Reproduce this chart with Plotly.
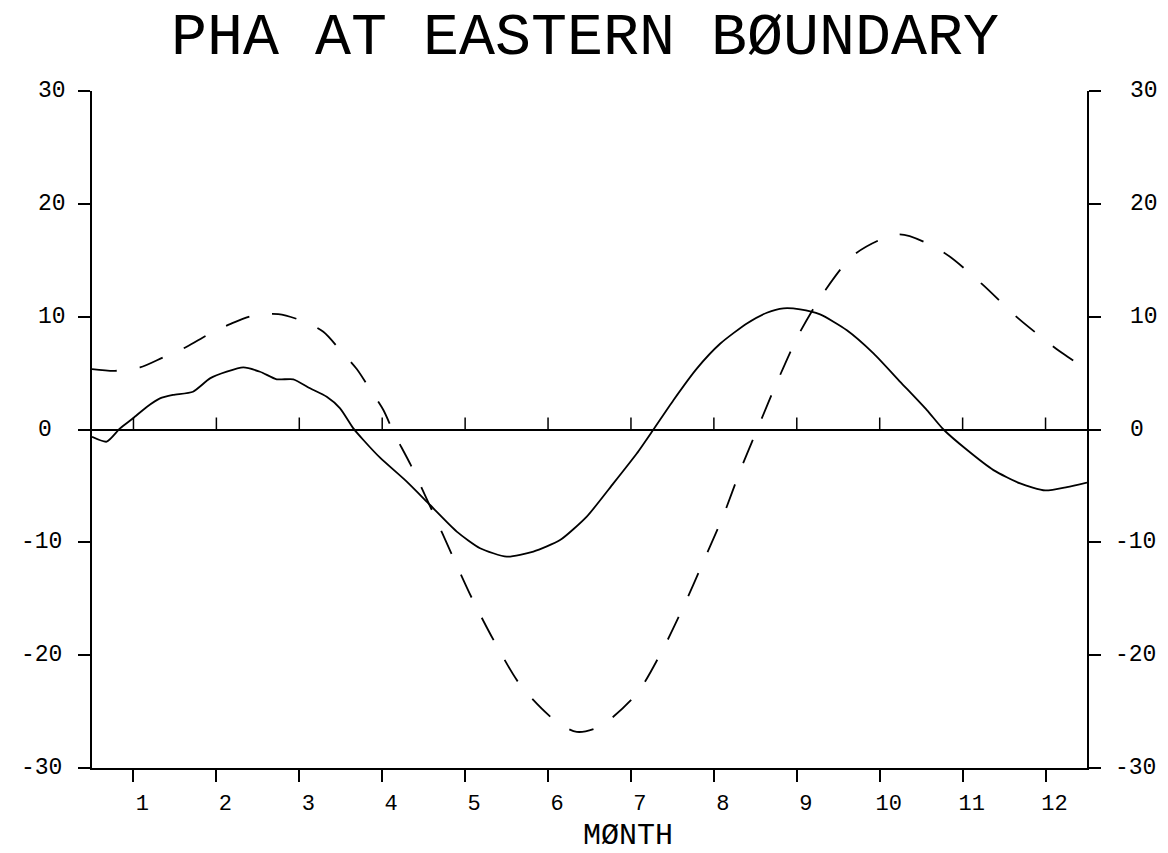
import plotly.graph_objects as go

# ---- data ----
months = [1, 2, 3, 4, 5, 6, 7, 8, 9, 10, 11, 12]
month_labels = ["1", "2", "3", "4", "5", "6", "7", "8", "9", "10", "11", "12"]
y_ticks = [30, 20, 10, 0, -10, -20, -30]

solid_x = [0.500, 0.677, 0.838, 0.995, 1.160, 1.320, 1.477, 1.718, 1.923, 2.125,
           2.325, 2.527, 2.728, 2.928, 3.130, 3.331, 3.492, 3.652, 3.773, 3.974,
           4.296, 4.577, 4.899, 5.180, 5.502, 5.823, 6.145, 6.467, 6.788, 7.070,
           7.271, 7.512, 7.794, 8.075, 8.398, 8.639, 8.839, 9.040, 9.281, 9.604,
           9.925, 10.247, 10.569, 10.769, 11.051, 11.372, 11.694, 11.996, 12.258, 12.500]
solid_y = [-0.65, -1.08, 0.10, 1.00, 2.00, 2.76, 3.06, 3.35, 4.53, 5.12,
           5.50, 5.12, 4.45, 4.45, 3.65, 2.90, 1.88, 0.10, -0.93, -2.50,
           -4.62, -6.69, -9.05, -10.52, -11.27, -10.82, -9.80, -7.72, -4.78, -2.13,
           0.00, 2.60, 5.40, 7.60, 9.40, 10.35, 10.74, 10.65, 10.20, 8.80,
           6.75, 4.23, 1.72, 0.00, -1.80, -3.60, -4.78, -5.40, -5.10, -4.70]

dashed_x = [0.500, 0.777, 1.079, 1.360, 1.642, 1.903, 2.165, 2.446, 2.747, 3.030,
            3.290, 3.492, 3.693, 3.853, 4.014, 4.134, 4.344, 4.598, 4.846, 5.092,
            5.361, 5.671, 6.085, 6.347, 6.628, 7.071, 7.376, 7.633, 7.874, 8.115,
            8.325, 8.522, 8.779, 9.029, 9.330, 9.704, 10.238, 10.769, 11.232, 11.654,
            12.128, 12.257, 12.500]
dashed_y = [5.36, 5.20, 5.50, 6.40, 7.33, 8.43, 9.34, 10.10, 10.23, 9.64,
            8.66, 7.04, 5.36, 3.56, 1.73, -0.20, -3.14, -7.13, -11.18, -15.10,
            -18.90, -22.70, -25.80, -26.80, -26.30, -23.40, -19.60, -15.70, -11.70, -7.60,
            -3.50, 0.00, 4.50, 8.50, 12.20, 15.57, 17.30, 15.70, 12.90, 9.96,
            7.16, 6.50, 5.30]

title_text = "PHA AT EASTERN BØUNDARY"
xlabel_text = "MØNTH"

FONT = "Liberation Mono"
INK = "black"

fig = go.Figure()
fig.add_trace(go.Scatter(x=solid_x, y=solid_y, mode="lines",
                         line=dict(color=INK, width=1.8, shape="spline", smoothing=0.6),
                         showlegend=False, hoverinfo="skip"))
fig.add_trace(go.Scatter(x=dashed_x, y=dashed_y, mode="lines", yaxis="y2",
                         line=dict(color=INK, width=1.8, dash="25px,23px",
                                   shape="spline", smoothing=0.8),
                         showlegend=False, hoverinfo="skip"))

# small upward ticks on the zero line
shapes = []
for m in months:
    shapes.append(dict(type="line", xref="x", yref="y", x0=m, x1=m,
                       ysizemode="pixel", yanchor=0, y0=0, y1=12,
                       line=dict(color=INK, width=1.5)))

annotations = []
# y tick labels, digits aligned as on the plotter
for v in y_ticks:
    t = str(v)
    if v >= 0:
        annotations.append(dict(text=t, xref="paper", yref="y", x=0, y=v, xanchor="left",
                                yanchor="middle", xshift=-56, showarrow=False,
                                font=dict(family=FONT, size=23, color=INK)))
        annotations.append(dict(text=t, xref="paper", yref="y", x=1, y=v, xanchor="left",
                                yanchor="middle", xshift=41, showarrow=False,
                                font=dict(family=FONT, size=23, color=INK)))
    else:
        annotations.append(dict(text=t, xref="paper", yref="y", x=0, y=v, xanchor="right",
                                yanchor="middle", xshift=-28, showarrow=False,
                                font=dict(family=FONT, size=23, color=INK)))
        annotations.append(dict(text=t, xref="paper", yref="y", x=1, y=v, xanchor="right",
                                yanchor="middle", xshift=71, showarrow=False,
                                font=dict(family=FONT, size=23, color=INK)))

annotations.append(dict(text=xlabel_text, xref="paper", yref="paper", x=0.5387, y=-0.101,
                        xanchor="center", yanchor="middle", showarrow=False,
                        font=dict(family=FONT, size=30, color=INK)))

fig.update_layout(
    width=1168, height=853,
    margin=dict(l=92, r=81, t=91, b=85),
    paper_bgcolor="white", plot_bgcolor="white",
    title=dict(text=title_text, xref="container", yref="container", x=0.5009, y=0.961,
               xanchor="center", yanchor="middle",
               font=dict(family=FONT, size=60, color=INK)),
    xaxis=dict(range=[0.5, 12.5], showline=True, linecolor=INK, linewidth=1.5,
               ticks="outside", tickvals=months, ticktext=month_labels, ticklen=12,
               tickwidth=1.5, tickcolor=INK, ticklabelshift=9, ticklabelstandoff=2,
               tickfont=dict(family=FONT, size=22, color=INK),
               showgrid=False, zeroline=False, mirror=False),
    yaxis=dict(range=[-30, 30], showline=True, linecolor=INK, linewidth=1.5,
               ticks="outside", tickvals=y_ticks, ticklen=12, tickwidth=1.5, tickcolor=INK,
               showticklabels=False, showgrid=False,
               zeroline=True, zerolinecolor=INK, zerolinewidth=1.5),
    yaxis2=dict(range=[-30, 30], overlaying="y", side="right", matches="y",
                showline=True, linecolor=INK, linewidth=1.5,
                ticks="outside", tickvals=y_ticks, ticklen=12, tickwidth=1.5, tickcolor=INK,
                showticklabels=False, showgrid=False, zeroline=False),
    shapes=shapes,
    annotations=annotations,
)

fig.write_html("out.html")
